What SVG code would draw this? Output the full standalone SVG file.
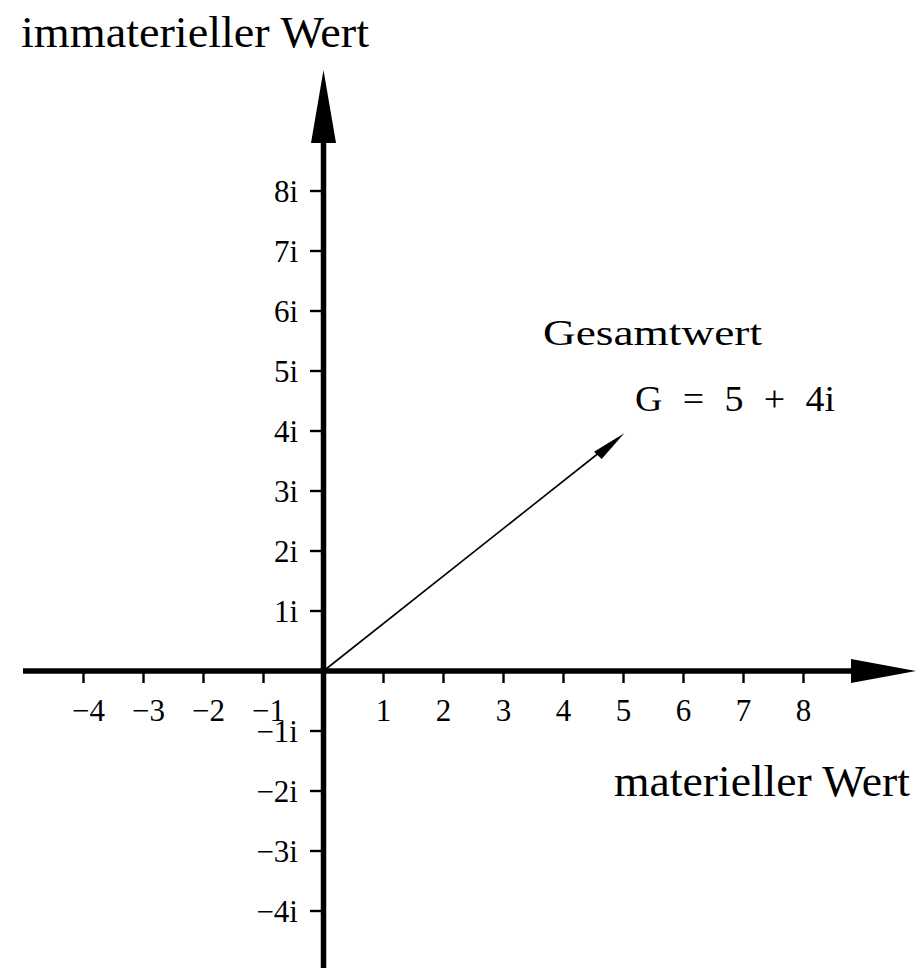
<svg xmlns="http://www.w3.org/2000/svg" width="916" height="968" viewBox="0 0 916 968">
<style>
  text { font-family: "Liberation Serif", "DejaVu Serif", serif; fill: #000; }
  .title { font-size: 44px; }
  .note { font-size: 35px; }
  .tick { font-size: 31px; }
  .ylab { text-anchor: end; }
  .xlab { text-anchor: middle; }
  .axis { stroke: #000; stroke-width: 5.5; fill: none; }
  .tk { stroke: #000; stroke-width: 2.4; }
  .vec { stroke: #000; stroke-width: 1.6; fill: none; }
</style>
<rect width="916" height="968" fill="#fff"/>
<g id="connectors">
  <g id="y-axis">
    <line class="axis" x1="323.5" y1="968" x2="323.5" y2="140"/>
    <polygon points="311,143 323.5,70 336,143" fill="#000"/>
  </g>
  <g id="x-axis">
    <line class="axis" x1="23" y1="671" x2="854" y2="671"/>
    <polygon points="851,659 916,671 851,683" fill="#000"/>
  </g>
  <g id="vector">
    <line class="vec" x1="323.5" y1="671" x2="600" y2="452"/>
    <polygon points="624.3,433.3 594,451.7 601.7,459" fill="#000"/>
  </g>
</g>
<g id="x-ticks">
  <line class="tk" x1="83.5" y1="671" x2="83.5" y2="683"/>
  <line class="tk" x1="143.5" y1="671" x2="143.5" y2="683"/>
  <line class="tk" x1="203.5" y1="671" x2="203.5" y2="683"/>
  <line class="tk" x1="263.5" y1="671" x2="263.5" y2="683"/>
  <line class="tk" x1="383.5" y1="671" x2="383.5" y2="683"/>
  <line class="tk" x1="443.5" y1="671" x2="443.5" y2="683"/>
  <line class="tk" x1="503.5" y1="671" x2="503.5" y2="683"/>
  <line class="tk" x1="563.5" y1="671" x2="563.5" y2="683"/>
  <line class="tk" x1="623.5" y1="671" x2="623.5" y2="683"/>
  <line class="tk" x1="683.5" y1="671" x2="683.5" y2="683"/>
  <line class="tk" x1="743.5" y1="671" x2="743.5" y2="683"/>
  <line class="tk" x1="803.5" y1="671" x2="803.5" y2="683"/>
</g>
<g id="y-ticks">
  <line class="tk" x1="310" y1="191" x2="323" y2="191"/>
  <line class="tk" x1="310" y1="251" x2="323" y2="251"/>
  <line class="tk" x1="310" y1="311" x2="323" y2="311"/>
  <line class="tk" x1="310" y1="371" x2="323" y2="371"/>
  <line class="tk" x1="310" y1="431" x2="323" y2="431"/>
  <line class="tk" x1="310" y1="491" x2="323" y2="491"/>
  <line class="tk" x1="310" y1="551" x2="323" y2="551"/>
  <line class="tk" x1="310" y1="611" x2="323" y2="611"/>
  <line class="tk" x1="310" y1="731" x2="323" y2="731"/>
  <line class="tk" x1="310" y1="791" x2="323" y2="791"/>
  <line class="tk" x1="310" y1="851" x2="323" y2="851"/>
  <line class="tk" x1="310" y1="911" x2="323" y2="911"/>
</g>
<g id="x-labels" class="tick">
  <text x="72" y="721">−4</text>
  <text x="132" y="721">−3</text>
  <text x="192" y="721">−2</text>
  <text x="252" y="721">−1</text>
  <text class="xlab" x="383.5" y="721">1</text>
  <text class="xlab" x="443.5" y="721">2</text>
  <text class="xlab" x="503.5" y="721">3</text>
  <text class="xlab" x="563.5" y="721">4</text>
  <text class="xlab" x="623.5" y="721">5</text>
  <text class="xlab" x="683.5" y="721">6</text>
  <text class="xlab" x="743.5" y="721">7</text>
  <text class="xlab" x="803.5" y="721">8</text>
</g>
<g id="y-labels" class="tick">
  <text class="ylab" x="298" y="202">8i</text>
  <text class="ylab" x="298" y="262">7i</text>
  <text class="ylab" x="298" y="322">6i</text>
  <text class="ylab" x="298" y="382">5i</text>
  <text class="ylab" x="298" y="442">4i</text>
  <text class="ylab" x="298" y="502">3i</text>
  <text class="ylab" x="298" y="562">2i</text>
  <text class="ylab" x="298" y="622">1i</text>
  <text class="ylab" x="298" y="742">−1i</text>
  <text class="ylab" x="298" y="802">−2i</text>
  <text class="ylab" x="298" y="862">−3i</text>
  <text class="ylab" x="298" y="922">−4i</text>
</g>
<g id="label-immaterieller">
  <text class="title" x="21" y="47" textLength="348" lengthAdjust="spacingAndGlyphs">immaterieller Wert</text>
</g>
<g id="label-materieller">
  <text class="title" x="614" y="796" textLength="296" lengthAdjust="spacingAndGlyphs">materieller Wert</text>
</g>
<g id="label-gesamtwert">
  <text class="note" x="543" y="345" textLength="219" lengthAdjust="spacingAndGlyphs">Gesamtwert</text>
  <text class="note" x="635" y="411" word-spacing="10" textLength="200" lengthAdjust="spacingAndGlyphs">G = 5 + 4i</text>
</g>
</svg>
